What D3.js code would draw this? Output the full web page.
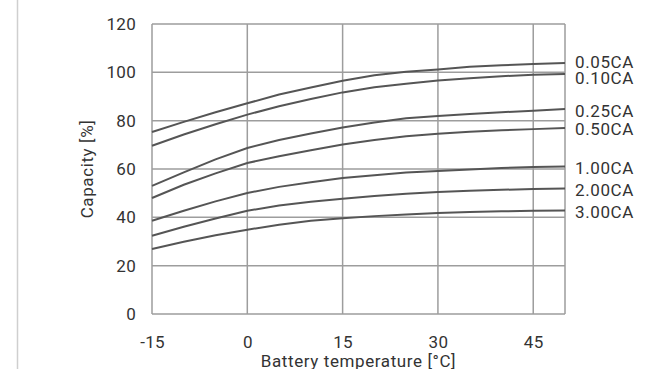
<!DOCTYPE html>
<html>
<head>
<meta charset="utf-8">
<script src="https://cdn.jsdelivr.net/npm/d3@7"></script>
<style>
  html, body { margin: 0; padding: 0; background: #fff; }
  svg { display: block; }
  text { font-family: Roboto, "DejaVu Sans", sans-serif; fill: #333; }
</style>
</head>
<body>
<svg id="chart" width="649" height="369"></svg>
<script>
// ---- data ----
const temperatures = [-15, -10, -5, 0, 5, 10, 15, 20, 25, 30, 35, 40, 45, 50];
const seriesNames = ["0.05CA", "0.10CA", "0.25CA", "0.50CA", "1.00CA", "2.00CA", "3.00CA"];
const cap005 = [75.3, 79.5, 83.5, 87.2, 90.8, 93.7, 96.5, 98.8, 100.2, 101.2, 102.3, 102.9, 103.4, 103.9];
const cap010 = [69.6, 74.3, 78.5, 82.5, 86.0, 89.0, 91.7, 93.8, 95.3, 96.6, 97.6, 98.4, 99.0, 99.3];
const cap025 = [53.0, 58.6, 64.0, 68.7, 72.0, 74.7, 77.2, 79.2, 81.0, 81.9, 82.8, 83.5, 84.1, 84.8];
const cap050 = [48.0, 53.5, 58.2, 62.5, 65.3, 67.8, 70.1, 72.0, 73.6, 74.6, 75.4, 76.0, 76.5, 77.0];
const cap100 = [38.6, 42.7, 46.6, 50.1, 52.6, 54.5, 56.3, 57.4, 58.6, 59.2, 59.8, 60.4, 60.8, 61.0];
const cap200 = [32.4, 36.1, 39.5, 42.7, 44.9, 46.4, 47.7, 48.8, 49.8, 50.5, 51.0, 51.4, 51.7, 51.9];
const cap300 = [26.9, 29.9, 32.6, 34.9, 36.9, 38.6, 39.6, 40.5, 41.2, 41.8, 42.2, 42.5, 42.7, 42.8];
const seriesValues = [cap005, cap010, cap025, cap050, cap100, cap200, cap300];
const xTicks = [-15, 0, 15, 30, 45];
const yTicks = [0, 20, 40, 60, 80, 100, 120];
const xDomain = [-15, 50];
const yDomain = [0, 120];
const xTitle = "Battery temperature [°C]";
const yTitle = "Capacity [%]";

// ---- layout ----
const svg = d3.select("#chart");
const plot = { left: 152, right: 565, top: 24, bottom: 314 };
const x = d3.scaleLinear().domain(xDomain).range([plot.left, plot.right]);
const y = d3.scaleLinear().domain(yDomain).range([plot.bottom, plot.top]);
const gridColor = "#9d9d9d";
const fontSize = "17px";
const spacing = "0.6px";

// page border line on the left
svg.append("line")
  .attr("x1", 17.5).attr("x2", 17.5).attr("y1", 0).attr("y2", 369)
  .attr("stroke", "#cfcfcf").attr("stroke-width", 1.5);

// grid
const grid = svg.append("g");
grid.selectAll("line.h").data(yTicks).join("line")
  .attr("x1", plot.left).attr("x2", plot.right)
  .attr("y1", d => y(d)).attr("y2", d => y(d))
  .attr("stroke", gridColor).attr("stroke-width", 1.5);
grid.selectAll("line.v").data(xTicks.concat([xDomain[1]])).join("line")
  .attr("y1", plot.top).attr("y2", plot.bottom)
  .attr("x1", d => x(d)).attr("x2", d => x(d))
  .attr("stroke", gridColor).attr("stroke-width", 1.5);

// axes (labels only)
const fmt = d => String(d);
const yAxis = d3.axisLeft(y).tickValues(yTicks).tickFormat(fmt).tickSize(0).tickPadding(16);
const gy = svg.append("g").attr("transform", `translate(${plot.left},0)`).call(yAxis);
const xAxis = d3.axisBottom(x).tickValues(xTicks).tickFormat(fmt).tickSize(0).tickPadding(22);
const gx = svg.append("g").attr("transform", `translate(0,${plot.bottom})`).call(xAxis);
[gx, gy].forEach(g => {
  g.select(".domain").remove();
  g.selectAll("text").style("font-family", "Roboto, sans-serif").style("font-size", fontSize)
    .style("letter-spacing", "0.3px").attr("fill", "#333");
});

// lines
const line = d3.line().x((d, i) => x(temperatures[i])).y(d => y(d));
svg.append("g").selectAll("path").data(seriesValues).join("path")
  .attr("d", d => line(d))
  .attr("fill", "none").attr("stroke", "#555").attr("stroke-width", 2);

// series labels at right end, separated
const labels = seriesValues.map((v, i) => ({ name: seriesNames[i], yy: y(v[v.length - 1]) + 1.5 }));
labels.sort((a, b) => a.yy - b.yy);
const gap = 16.5;
for (let iter = 0; iter < 50; iter++) {
  for (let i = 1; i < labels.length; i++) {
    const d = labels[i].yy - labels[i - 1].yy;
    if (d < gap) {
      const push = (gap - d) / 2;
      labels[i - 1].yy -= push;
      labels[i].yy += push;
    }
  }
}
svg.append("g").selectAll("text").data(labels).join("text")
  .attr("x", plot.right + 10).attr("y", d => d.yy)
  .attr("dy", "0.35em")
  .style("font-size", fontSize)
  .style("letter-spacing", spacing)
  .text(d => d.name);

// axis titles
svg.append("text")
  .attr("transform", `translate(93,${(plot.top + plot.bottom) / 2}) rotate(-90)`)
  .attr("text-anchor", "middle")
  .style("font-size", fontSize)
  .style("letter-spacing", spacing)
  .text(yTitle);
svg.append("text")
  .attr("x", (plot.left + plot.right) / 2).attr("y", 367)
  .attr("text-anchor", "middle")
  .style("font-size", fontSize)
  .style("letter-spacing", spacing)
  .text(xTitle);
</script>
</body>
</html>
